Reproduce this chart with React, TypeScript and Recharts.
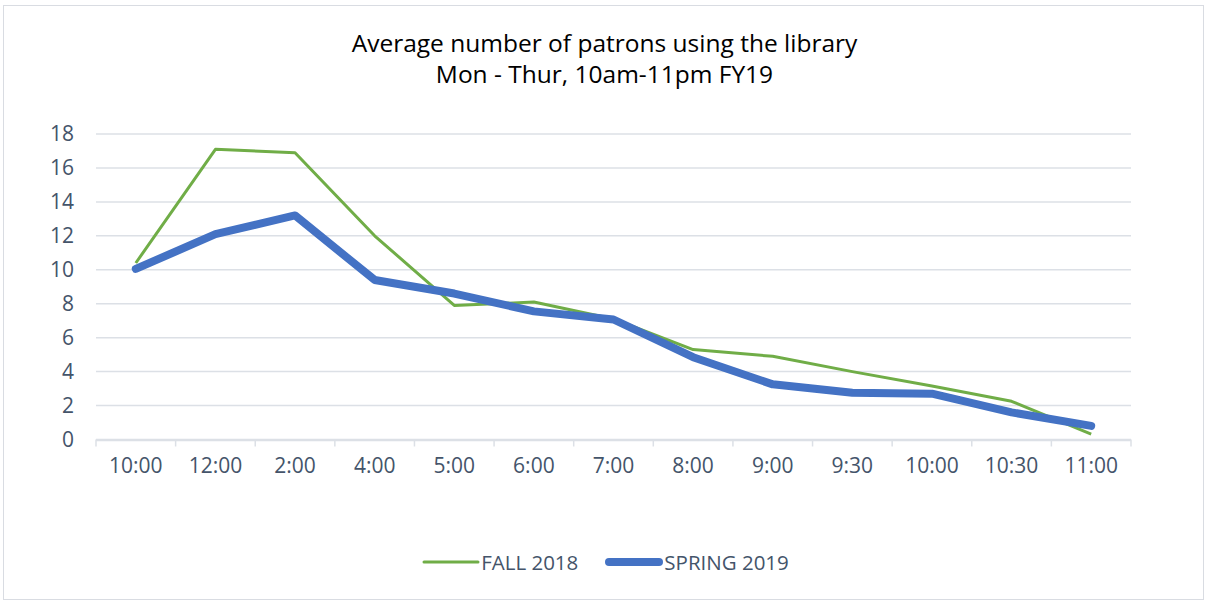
import React from 'react';
import { LineChart, Line, XAxis, YAxis, CartesianGrid, Legend } from 'recharts';

const categories = ['10:00', '12:00', '2:00', '4:00', '5:00', '6:00', '7:00', '8:00', '9:00', '9:30', '10:00', '10:30', '11:00'];
const fall2018 = [10.4, 17.1, 16.9, 12.0, 7.9, 8.1, 7.1, 5.3, 4.9, 4.0, 3.15, 2.25, 0.32];
const spring2019 = [10.05, 12.1, 13.2, 9.4, 8.6, 7.55, 7.07, 4.85, 3.25, 2.75, 2.7, 1.6, 0.8];
const yTicks = [0, 2, 4, 6, 8, 10, 12, 14, 16, 18];

const data = categories.map((c, i) => ({ idx: i, time: c, fall: fall2018[i], spring: spring2019[i] }));
const labelTicks = categories.map((_, i) => i);
const boundaryTicks = [...categories.map((_, i) => i - 0.5), categories.length - 0.5];
const xDomain = [-0.5, categories.length - 0.5];

const FONT = '"Open Sans", sans-serif';
const LABEL = '#44546A';
const GRID = '#DCE0E6';

const XTick = (props: any) => {
  const { x, y, payload } = props;
  return (
    <text x={x} y={y + 32} textAnchor="middle" fill={LABEL} fontSize={21} fontFamily={FONT}>
      {categories[payload.value]}
    </text>
  );
};

const EmptyTick = () => <g />;

const LegendContent = (props: any) => {
  const { payload } = props;
  return (
    <div style={{ display: 'flex', justifyContent: 'center', alignItems: 'center', fontFamily: FONT, fontSize: 20.5, color: LABEL, lineHeight: '24px', paddingLeft: 6 }}>
      {(payload || []).map((p: any, i: number) => (
        <div key={i} style={{ display: 'flex', alignItems: 'center', marginLeft: i === 0 ? 0 : 27 }}>
          <svg width={58} height={12} style={{ marginRight: 1 }}>
            <line x1={p.value === 'SPRING 2019' ? 4 : 2} x2={p.value === 'SPRING 2019' ? 54 : 56} y1={6} y2={6} stroke={p.color} strokeWidth={p.value === 'SPRING 2019' ? 8 : 3} strokeLinecap="round" />
          </svg>
          <span>{p.value}</span>
        </div>
      ))}
    </div>
  );
};

export default function App() {
  return (
    <div style={{ position: 'absolute', left: 0, top: 0, width: 1205, height: 600, background: '#fff' }}>
      <div style={{ position: 'absolute', left: 3, top: 5, width: 1199, height: 593, border: '1px solid #D9DCE2' }} />
      <div style={{ position: 'absolute', left: 0, top: 27, width: 1209, textAlign: 'center', fontFamily: FONT, fontSize: 24.5, lineHeight: '31px', color: '#000' }}>
        <div>Average number of patrons using the library</div>
        <div>Mon - Thur, 10am-11pm FY19</div>
      </div>
      <div style={{ position: 'absolute', left: 0, top: 0 }}>
        <LineChart width={1205} height={600} data={data} margin={{ top: 134, right: 74, bottom: 158.5, left: 36 }}>
          <CartesianGrid vertical={false} stroke={GRID} strokeWidth={1.5} />
          <XAxis xAxisId="lab" dataKey="idx" type="number" domain={xDomain} ticks={labelTicks} interval={0}
            axisLine={{ stroke: GRID, strokeWidth: 1.5 }} tickLine={false} tickSize={0} tickMargin={0} tick={<XTick />} height={1} />
          <XAxis xAxisId="bnd" dataKey="idx" type="number" domain={xDomain} ticks={boundaryTicks} interval={0}
            axisLine={false} tickLine={{ stroke: GRID, strokeWidth: 1.5 }} tickSize={7} tick={<EmptyTick />} height={1} />
          <YAxis width={60} domain={[0, 18]} ticks={yTicks} axisLine={false} tickLine={false} tickSize={0} tickMargin={22} tick={{ fill: LABEL, fontSize: 21, fontFamily: FONT }} interval={0} />
          <Legend layout="vertical" align="center" verticalAlign="middle" wrapperStyle={{ top: 550, left: 0, width: 1205 }} content={<LegendContent />} />
          <Line xAxisId="lab" dataKey="fall" name="FALL 2018" stroke="#70AD47" strokeWidth={3} dot={false} isAnimationActive={false} strokeLinejoin="round" />
          <Line xAxisId="lab" dataKey="spring" name="SPRING 2019" stroke="#4472C4" strokeWidth={8} dot={false} isAnimationActive={false} strokeLinecap="round" strokeLinejoin="round" />
        </LineChart>
      </div>
    </div>
  );
}
